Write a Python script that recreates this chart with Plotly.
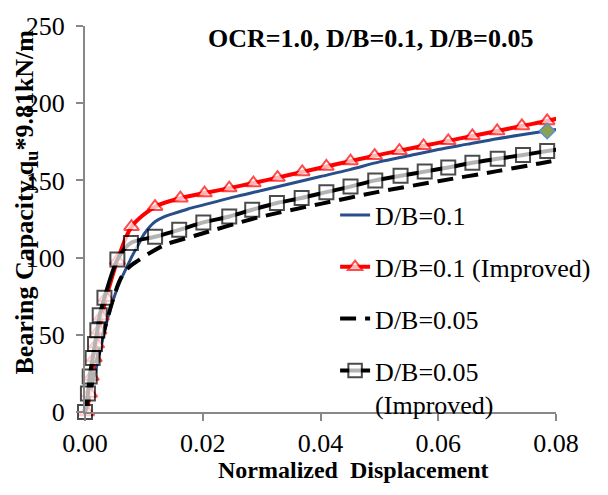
import plotly.graph_objects as go

# ---------------- data ----------------
x_db01 = [0, 0.001, 0.002, 0.003, 0.004, 0.005, 0.006, 0.007, 0.008, 0.009, 0.010, 0.011,
          0.012, 0.0135, 0.015, 0.0175, 0.02, 0.025, 0.03, 0.035, 0.04, 0.045, 0.05,
          0.055, 0.06, 0.065, 0.07, 0.075, 0.08]
y_db01 = [0, 14, 30, 47, 63, 75, 85, 93, 101, 108, 115, 120,
          123.5, 126.5, 128.5, 131.5, 134, 139, 143.5, 148, 152.5, 157, 162,
          166, 170, 173.5, 177, 180, 183]

x_db01_imp = [0.0003, 0.0008, 0.0011, 0.0016, 0.002, 0.0024, 0.0028, 0.0036, 0.0055,
              0.0079, 0.0119, 0.0162, 0.0203, 0.0245, 0.0286, 0.0327, 0.0369, 0.041,
              0.0451, 0.0492, 0.0534, 0.0575, 0.0617, 0.0658, 0.070, 0.0742, 0.0785, 0.0802]
y_db01_imp = [0, 12, 23, 35, 44, 53, 62, 74, 98,
              120, 133, 138.5, 141.8, 145, 148.3, 151.8, 155.5, 159,
              162.5, 166, 169.2, 172.4, 175.6, 178.8, 182, 185.3, 188.5, 190]

x_db005 = [0, 0.001, 0.002, 0.003, 0.004, 0.005, 0.006, 0.007, 0.008, 0.009, 0.011,
           0.0137, 0.0185, 0.0294, 0.04, 0.0496, 0.06, 0.07, 0.0772, 0.08]
y_db005 = [0, 16, 33, 49, 63, 76, 86, 92, 95.5, 98, 103,
           108.5, 114, 126, 134.8, 142.4, 149.5, 156, 161, 163]

x_db005_imp = [0, 0.0005, 0.0008, 0.0013, 0.0017, 0.0021, 0.0025, 0.0033, 0.0055,
               0.0078, 0.0119, 0.016, 0.0201, 0.0245, 0.0284, 0.0326, 0.0368, 0.041,
               0.0451, 0.0493, 0.0536, 0.0577, 0.0617, 0.0658, 0.0701, 0.0744, 0.0785, 0.0802]
y_db005_imp = [0, 12, 23, 35, 44, 53, 62.6, 74, 98.7,
               109.5, 113.5, 118, 122.8, 126.6, 131, 135.4, 138.6, 142.4,
               146, 150, 153, 155.7, 158.4, 161.4, 164, 166.5, 169, 170]

x_end_point = [0.0785]
y_end_point = [182]

x_ticks = [0, 0.02, 0.04, 0.06, 0.08]
y_ticks = [0, 50, 100, 150, 200, 250]

FONT = "Liberation Serif"

fig = go.Figure()

fig.add_trace(go.Scatter(
    x=x_db01, y=y_db01, mode="lines", name="D/B=0.1", legendgroup="a",
    line=dict(color="#284F8A", width=3, shape="spline", smoothing=0.8),
))
n1 = len(x_db01_imp)
fig.add_trace(go.Scatter(
    x=x_db01_imp, y=y_db01_imp, mode="lines+markers", name="D/B=0.1 (Improved)", legendgroup="b",
    line=dict(color="#FF0000", width=4, shape="spline", smoothing=0.8),
    marker=dict(symbol="triangle-up", size=[13] * (n1 - 1) + [0], color="white",
                line=dict(color="#FF0000", width=2)),
    cliponaxis=False,
))
fig.add_trace(go.Scatter(
    x=x_db005, y=y_db005, mode="lines", name="D/B=0.05", legendgroup="c",
    line=dict(color="black", width=4, dash="16px,9px", shape="spline", smoothing=0.8),
))
n2 = len(x_db005_imp)
fig.add_trace(go.Scatter(
    x=x_db005_imp, y=y_db005_imp, mode="lines+markers", name="D/B=0.05<br>(Improved)", legendgroup="d",
    line=dict(color="black", width=4, shape="spline", smoothing=0.8),
    marker=dict(symbol="square", size=[14] * (n2 - 1) + [0], color="white",
                line=dict(color="black", width=2)),
    cliponaxis=False,
))
fig.add_trace(go.Scatter(
    x=x_end_point, y=y_end_point, mode="markers", showlegend=False,
    marker=dict(symbol="diamond", size=12, color="#8AA14E", line=dict(color="#5B8FD0", width=1.5)),
    cliponaxis=False,
))

axis_common = dict(
    showline=True, linecolor="#888888", linewidth=2, ticks="outside", ticklen=7,
    tickcolor="#888888", tickwidth=2, showgrid=False, zeroline=False,
    tickfont=dict(family=FONT, size=26, color="black"),
)
fig.update_xaxes(range=[0, 0.08], tickvals=x_ticks, tickformat=".2f", **axis_common)
fig.update_yaxes(range=[0, 250], tickvals=y_ticks, ticklabelstandoff=6, **axis_common)

fig.update_layout(
    width=608, height=495,
    margin=dict(l=85, r=39, t=17, b=83),
    plot_bgcolor="white", paper_bgcolor="white",
    showlegend=True,
    legend=dict(
        x=0.531, y=0.571, xanchor="left", yanchor="top",
        font=dict(family=FONT, size=26, color="black"),
        bgcolor="rgba(0,0,0,0)", traceorder="grouped", tracegroupgap=15,
        valign="top",
    ),
    annotations=[
        dict(text="<b>OCR=1.0, D/B=0.1, D/B=0.05</b>", xref="paper", yref="paper",
             x=(378 - 85) / 484, y=(412 - 30) / 395, xanchor="center", yanchor="middle",
             showarrow=False, font=dict(family=FONT, size=26, color="black")),
        dict(text="<b>Normalized\u00a0 Displacement</b>", xref="paper", yref="paper",
             x=(361 - 85) / 484, y=(412 - 471) / 395, xanchor="center", yanchor="middle",
             showarrow=False, font=dict(family=FONT, size=24, color="black")),
        dict(text="<b>Bearing Capacity,q<sub>u</sub>*9.81kN/m</b>", xref="paper", yref="paper",
             x=(24 - 85) / 484, y=(412 - 197) / 395, xanchor="center", yanchor="middle",
             textangle=-90, showarrow=False, font=dict(family=FONT, size=26, color="black")),
    ],
)

fig.write_html("out.html")
